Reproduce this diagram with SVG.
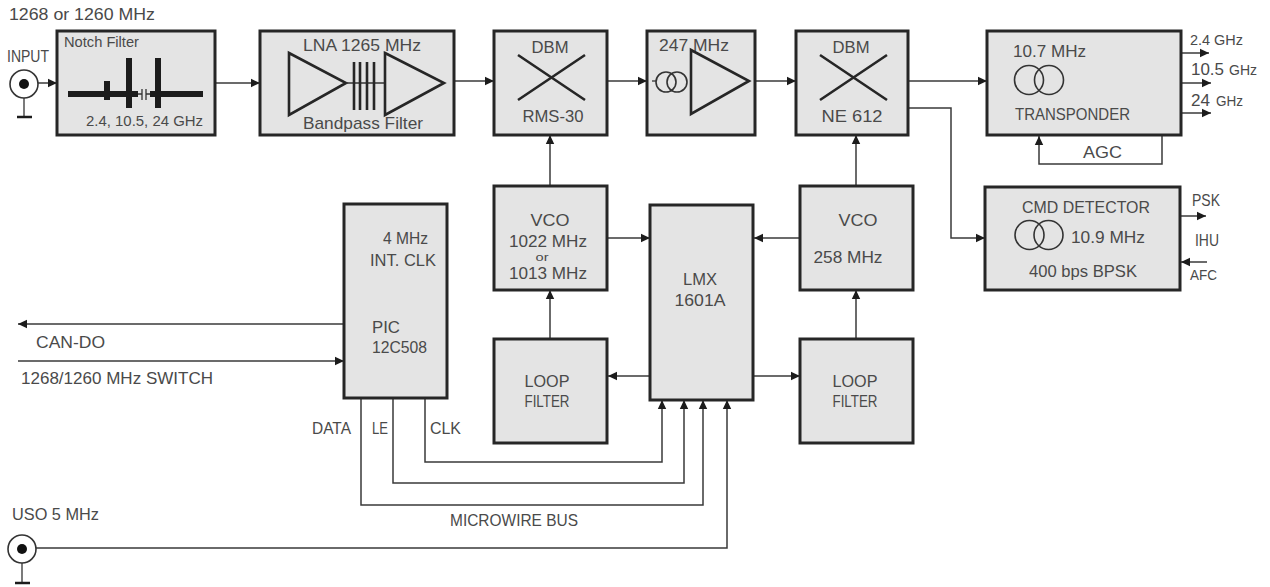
<svg xmlns="http://www.w3.org/2000/svg" width="1270" height="587" viewBox="0 0 1270 587">
<style>
text{font-family:"Liberation Sans",Arial,sans-serif;font-size:17px;fill:#4a4a4a}
.m{text-anchor:middle}
.s{font-size:14.5px}
.box{fill:#e4e4e4;stroke:#262626;stroke-width:3}
.sym{fill:none;stroke:#262626;stroke-width:2.6;stroke-linejoin:miter}
.ring{fill:none;stroke:#333;stroke-width:1.6}
.thick{stroke:#1c1c1c;stroke-width:6;fill:none}
.thin{stroke:#333;stroke-width:1.3;fill:none}
.c{fill:none;stroke:#3a3a3a;stroke-width:1.5}
.a{marker-end:url(#arrow)}
</style>
<defs>
<marker id="arrow" markerUnits="userSpaceOnUse" markerWidth="10" markerHeight="10" refX="9" refY="5" orient="auto"><path d="M0,0.8 L9,5 L0,9.2 Z" fill="#1c1c1c"/></marker>
</defs>
<g id="connectors">
<path class="c a" d="M38,83H57"/>
<path class="c a" d="M215,83H260"/>
<path class="c a" d="M454,81H494"/>
<path class="c a" d="M607,81H647"/>
<path class="c a" d="M755,81H796"/>
<path class="c a" d="M908,81H987"/>
<path class="c a" d="M908,108H951V238H985"/>
<path class="c a" d="M1181,53H1209"/>
<path class="c a" d="M1181,83H1211"/>
<path class="c a" d="M1181,113H1211"/>
<path class="c a" d="M1162,135V164H1039V136"/>
<path class="c a" d="M1177,216H1206"/>
<path class="c a" d="M1207,262H1181"/>
<path class="c a" d="M550,186V135"/>
<path class="c a" d="M856,186V135"/>
<path class="c a" d="M550,339V290"/>
<path class="c a" d="M856,339V290"/>
<path class="c a" d="M608,238H650"/>
<path class="c a" d="M800,238H754"/>
<path class="c a" d="M650,376H608"/>
<path class="c a" d="M753,376H800"/>
<path class="c a" d="M344,324H18"/>
<path class="c a" d="M18,361H344"/>
<path class="c a" d="M425,398V462H662V400"/>
<path class="c a" d="M393,398V483H684V400"/>
<path class="c a" d="M361,398V505H703V400"/>
<path class="c a" d="M36,548H727V400"/>
</g>
<g id="input">
<text x="9" y="20" textLength="146" lengthAdjust="spacingAndGlyphs">1268 or 1260 MHz</text>
<text x="7" y="62" textLength="42" lengthAdjust="spacingAndGlyphs">INPUT</text>
<circle class="ring" cx="24" cy="84" r="14"/><circle cx="24" cy="84" r="5" fill="#111"/>
<path class="thin" d="M24,98V117"/><path class="thick" style="stroke-width:2.5" d="M17,117H32"/>
</g>
<g id="uso">
<text x="12" y="520" textLength="87" lengthAdjust="spacingAndGlyphs">USO 5 MHz</text>
<circle class="ring" cx="22" cy="549" r="14"/><circle cx="22" cy="549" r="5" fill="#111"/>
<path class="thin" d="M22,563V583"/><path class="thick" style="stroke-width:2.5" d="M15,583H30"/>
</g>
<g id="notch">
<rect class="box" x="57" y="31" width="158" height="104"/>
<text x="64" y="47" class="s" textLength="75" lengthAdjust="spacingAndGlyphs">Notch Filter</text>
<path class="thick" d="M68,94H138M150,94H203M107,81V100M129,58V108M158,58V108"/>
<path class="thin" d="M138,94H142M146,94H150M142,89V100M146,89V100"/>
<text x="86" y="126" class="s" textLength="117" lengthAdjust="spacingAndGlyphs">2.4, 10.5, 24 GHz</text>
</g>
<g id="lna">
<rect class="box" x="260" y="31" width="194" height="104"/>
<text x="303" y="51" textLength="118" lengthAdjust="spacingAndGlyphs">LNA  1265 MHz</text>
<path class="sym" d="M289,53L346,83L289,115Z"/>
<path class="thin" d="M346,83H385"/>
<path class="sym" d="M354,62V110M360,62V110M367,62V110M374,62V110"/>
<path class="sym" d="M385,53L444,83L385,115Z"/>
<text x="303" y="129" textLength="120" lengthAdjust="spacingAndGlyphs">Bandpass Filter</text>
</g>
<g id="dbm1">
<rect class="box" x="494" y="31" width="113" height="104"/>
<text x="550" y="53" class="m" textLength="37" lengthAdjust="spacingAndGlyphs">DBM</text>
<path class="sym" d="M518,55L585,100M585,55L518,100"/>
<text x="553" y="122" class="m" textLength="61" lengthAdjust="spacingAndGlyphs">RMS-30</text>
</g>
<g id="if247">
<rect class="box" x="647" y="31" width="108" height="104"/>
<text x="659" y="51" textLength="70" lengthAdjust="spacingAndGlyphs">247 MHz</text>
<path class="thin" d="M652,81H656"/>
<circle class="ring" cx="666" cy="82" r="10"/><circle class="ring" cx="677" cy="82" r="10"/>
<path class="sym" d="M691,50L749,81L691,114Z"/>
</g>
<g id="dbm2">
<rect class="box" x="796" y="31" width="112" height="104"/>
<text x="851" y="53" class="m" textLength="37" lengthAdjust="spacingAndGlyphs">DBM</text>
<path class="sym" d="M820,55L887,100M887,55L820,100"/>
<text x="852" y="122" class="m" textLength="61" lengthAdjust="spacingAndGlyphs">NE 612</text>
</g>
<g id="transponder">
<rect class="box" x="987" y="31" width="194" height="104"/>
<text x="1013" y="57" textLength="73" lengthAdjust="spacingAndGlyphs">10.7 MHz</text>
<circle class="ring" cx="1029" cy="80" r="14.5"/><circle class="ring" cx="1049" cy="80" r="14.5"/>
<text x="1015" y="120" textLength="115" lengthAdjust="spacingAndGlyphs">TRANSPONDER</text>
<text x="1190" y="45" class="s" textLength="53" lengthAdjust="spacingAndGlyphs">2.4 GHz</text>
<text x="1191" y="75" textLength="33" lengthAdjust="spacingAndGlyphs">10.5</text><text x="1229" y="75" class="s" textLength="28" lengthAdjust="spacingAndGlyphs">GHz</text>
<text x="1191" y="106" textLength="19" lengthAdjust="spacingAndGlyphs">24</text><text x="1216" y="106" class="s" textLength="27" lengthAdjust="spacingAndGlyphs">GHz</text>
<text x="1083" y="158" textLength="39" lengthAdjust="spacingAndGlyphs">AGC</text>
</g>
<g id="cmd">
<rect class="box" x="985" y="187" width="195" height="103"/>
<text x="1022" y="213" textLength="128" lengthAdjust="spacingAndGlyphs">CMD DETECTOR</text>
<circle class="ring" cx="1029.5" cy="235" r="14.5"/><circle class="ring" cx="1048.5" cy="235" r="14.5"/>
<text x="1071" y="243" textLength="74" lengthAdjust="spacingAndGlyphs">10.9 MHz</text>
<text x="1029" y="277" textLength="108" lengthAdjust="spacingAndGlyphs">400 bps BPSK</text>
<text x="1192" y="206" textLength="28" lengthAdjust="spacingAndGlyphs">PSK</text>
<text x="1195" y="246" textLength="24" lengthAdjust="spacingAndGlyphs">IHU</text>
<text x="1190" y="280" class="s" textLength="27" lengthAdjust="spacingAndGlyphs">AFC</text>
</g>
<g id="vco1">
<rect class="box" x="494" y="186" width="113" height="104"/>
<text x="550" y="226" class="m" textLength="39" lengthAdjust="spacingAndGlyphs">VCO</text>
<text x="548" y="246.5" class="m" textLength="78" lengthAdjust="spacingAndGlyphs">1022 MHz</text>
<text x="542" y="261" class="m" style="font-size:11px" textLength="13" lengthAdjust="spacingAndGlyphs">or</text>
<text x="548" y="279" class="m" textLength="78" lengthAdjust="spacingAndGlyphs">1013 MHz</text>
</g>
<g id="loop1">
<rect class="box" x="494" y="339" width="113" height="104"/>
<text x="547" y="387" class="m" textLength="45" lengthAdjust="spacingAndGlyphs">LOOP</text>
<text x="547" y="407" class="m" textLength="45" lengthAdjust="spacingAndGlyphs">FILTER</text>
</g>
<g id="lmx">
<rect class="box" x="650" y="205" width="103" height="195"/>
<text x="700" y="285" class="m" textLength="34" lengthAdjust="spacingAndGlyphs">LMX</text>
<text x="700" y="306" class="m" textLength="51" lengthAdjust="spacingAndGlyphs">1601A</text>
</g>
<g id="vco2">
<rect class="box" x="800" y="186" width="113" height="104"/>
<text x="858" y="226" class="m" textLength="39" lengthAdjust="spacingAndGlyphs">VCO</text>
<text x="848" y="263" class="m" textLength="69" lengthAdjust="spacingAndGlyphs">258 MHz</text>
</g>
<g id="loop2">
<rect class="box" x="800" y="339" width="113" height="104"/>
<text x="855" y="387" class="m" textLength="45" lengthAdjust="spacingAndGlyphs">LOOP</text>
<text x="855" y="407" class="m" textLength="45" lengthAdjust="spacingAndGlyphs">FILTER</text>
</g>
<g id="pic">
<rect class="box" x="344" y="204" width="103" height="194"/>
<text x="383" y="244" textLength="45" lengthAdjust="spacingAndGlyphs">4 MHz</text>
<text x="370" y="266" textLength="66" lengthAdjust="spacingAndGlyphs">INT. CLK</text>
<text x="372" y="333" textLength="28" lengthAdjust="spacingAndGlyphs">PIC</text>
<text x="372" y="353" textLength="55" lengthAdjust="spacingAndGlyphs">12C508</text>
</g>
<g id="labels">
<text x="36" y="348" textLength="69" lengthAdjust="spacingAndGlyphs">CAN-DO</text>
<text x="21" y="384" textLength="192" lengthAdjust="spacingAndGlyphs">1268/1260 MHz SWITCH</text>
<text x="312" y="434" textLength="39" lengthAdjust="spacingAndGlyphs">DATA</text>
<text x="372" y="434" textLength="16" lengthAdjust="spacingAndGlyphs">LE</text>
<text x="430" y="434" textLength="31" lengthAdjust="spacingAndGlyphs">CLK</text>
<text x="450" y="526" textLength="128" lengthAdjust="spacingAndGlyphs">MICROWIRE BUS</text>
</g>
</svg>
